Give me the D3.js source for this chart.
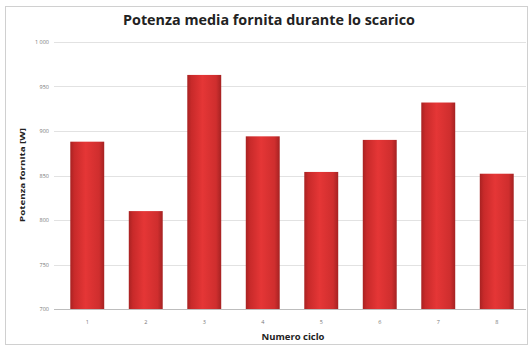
<!DOCTYPE html>
<html><head><meta charset="utf-8">
<script src="https://cdn.jsdelivr.net/npm/d3@7"></script>
<style>body{margin:0;background:#fff}svg{display:block}</style>
</head><body>
<svg id="c" width="531" height="349"></svg>
<script>
const categories = ["1","2","3","4","5","6","7","8"];
const values = [888, 810, 963, 894, 854, 890, 932, 852];
const yTicks = [700, 750, 800, 850, 900, 950, 1000];
const yTickLabels = ["700","750","800","850","900","950","1 000"];
const title = "Potenza media fornita durante lo scarico";
const xTitle = "Numero ciclo";
const yTitle = "Potenza fornita [W]";

const svg = d3.select("#c");
const m = {l:58, r:526, t:42, b:309};
const x = d3.scaleBand().domain(categories).range([m.l, m.r]).paddingInner(0.42).paddingOuter(0.21);
const y = d3.scaleLinear().domain([700, 1000]).range([m.b, m.t]);

const defs = svg.append("defs");
const g = defs.append("linearGradient").attr("id","bg").attr("x1","0").attr("x2","1").attr("y1","0").attr("y2","0");
g.append("stop").attr("offset","0").attr("stop-color","#a82222");
g.append("stop").attr("offset","0.12").attr("stop-color","#c82a2a");
g.append("stop").attr("offset","0.45").attr("stop-color","#e53636");
g.append("stop").attr("offset","0.85").attr("stop-color","#cf2e2e");
g.append("stop").attr("offset","1").attr("stop-color","#a52222");

svg.append("rect").attr("x",5.5).attr("y",6.5).attr("width",522).attr("height",338)
  .attr("fill","#fff").attr("stroke","#d0d0d0");

// gridlines
svg.append("g").selectAll("line").data(yTicks).join("line")
  .attr("x1", m.l-4).attr("x2", m.r).attr("y1", d=>Math.round(y(d))+0.5).attr("y2", d=>Math.round(y(d))+0.5)
  .attr("stroke", d=> d===700 ? "#bdbdbd" : "#e2e2e2").attr("stroke-width",1);

// y labels
svg.append("g").selectAll("text").data(yTicks).join("text")
  .attr("x", 49).attr("y", d=>y(d)+2).attr("text-anchor","end")
  .attr("font-family","Open Sans, sans-serif").attr("font-size",5.5).attr("fill","#777")
  .text((d,i)=>yTickLabels[i]);

// bars
svg.append("g").selectAll("rect").data(values).join("rect")
  .attr("x",(d,i)=>x(categories[i])).attr("width",x.bandwidth())
  .attr("y",d=>y(d)).attr("height",d=>y(700)-y(d))
  .attr("fill","url(#bg)");

// x labels
svg.append("g").selectAll("text").data(categories).join("text")
  .attr("x", d=>x(d)+x.bandwidth()/2).attr("y", 324).attr("text-anchor","middle")
  .attr("font-family","Open Sans, sans-serif").attr("font-size",5.5).attr("fill","#777")
  .text(d=>d);

svg.append("text").attr("x",269).attr("y",25).attr("text-anchor","middle")
  .attr("font-family","Open Sans, sans-serif").attr("font-weight","bold").attr("font-size",13.5)
  .attr("fill","#222").attr("textLength",292).attr("lengthAdjust","spacingAndGlyphs").text(title);

svg.append("text").attr("x",293).attr("y",340).attr("text-anchor","middle")
  .attr("font-family","Open Sans, sans-serif").attr("font-weight","bold").attr("font-size",8)
  .attr("fill","#222").attr("textLength",63).attr("lengthAdjust","spacingAndGlyphs").text(xTitle);

svg.append("text").attr("transform","translate(25,175) rotate(-90)").attr("text-anchor","middle")
  .attr("font-family","Open Sans, sans-serif").attr("font-weight","bold").attr("font-size",7)
  .attr("fill","#222").attr("textLength",94).attr("lengthAdjust","spacingAndGlyphs").text(yTitle);
</script>
</body></html>
